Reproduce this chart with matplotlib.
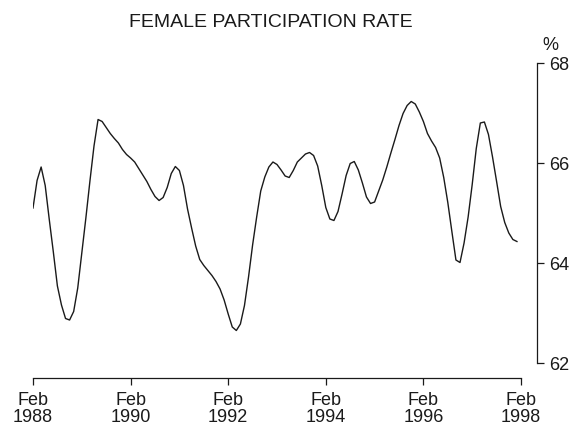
import matplotlib
matplotlib.use("Agg")
import matplotlib.pyplot as plt
import numpy as np

plt.rcParams['font.family'] = ['Liberation Sans', 'DejaVu Sans']

title = "FEMALE PARTICIPATION RATE"
unit_label = "%"

# Monthly female participation rate, Feb 1988 - Jan 1998
rate = [
    65.10, 65.65, 65.92, 65.55, 64.87, 64.22, 63.54, 63.16, 62.89, 62.86, 63.03, 63.50,
    64.20, 64.90, 65.64, 66.34, 66.87, 66.83, 66.71, 66.59, 66.49, 66.40, 66.27, 66.17,
    66.10, 66.02, 65.89, 65.76, 65.63, 65.47, 65.33, 65.25, 65.31, 65.51, 65.79, 65.93,
    65.85, 65.55, 65.08, 64.70, 64.34, 64.07, 63.95, 63.85, 63.75, 63.63, 63.48, 63.26,
    62.98, 62.72, 62.65, 62.78, 63.15, 63.72, 64.36, 64.92, 65.44, 65.72, 65.92, 66.02,
    65.97, 65.86, 65.74, 65.71, 65.85, 66.02, 66.10, 66.18, 66.21, 66.15, 65.94, 65.55,
    65.11, 64.88, 64.85, 65.03, 65.38, 65.75, 65.99, 66.03, 65.86, 65.60, 65.32, 65.19,
    65.22, 65.44, 65.66, 65.92, 66.20, 66.47, 66.75, 66.99, 67.15, 67.23, 67.18, 67.02,
    66.83, 66.59, 66.44, 66.31, 66.10, 65.71, 65.21, 64.63, 64.06, 64.01, 64.40, 64.92,
    65.57, 66.29, 66.80, 66.82, 66.57, 66.12, 65.63, 65.13, 64.81, 64.60, 64.47, 64.43,
]

xtick_months = [0, 24, 48, 72, 96, 120]
xtick_labels = ["Feb\n1988", "Feb\n1990", "Feb\n1992", "Feb\n1994", "Feb\n1996", "Feb\n1998"]
yticks = [62, 64, 66, 68]

W, H = 586, 427
fig = plt.figure(figsize=(W / 100, H / 100), dpi=100)
ax = fig.add_axes([33 / W, 1 - 364 / H, 488 / W, 300 / H])

months = np.arange(len(rate))
ax.plot(months, rate, color='#1a1a1a', lw=1.0)

ax.set_xlim(0, 120)
ax.set_ylim(62, 68)
ax.spines['left'].set_visible(False)
ax.spines['top'].set_visible(False)
ax.spines['right'].set_position(('outward', 11.5))
ax.spines['bottom'].set_position(('outward', 11))
for s in ['right', 'bottom']:
    ax.spines[s].set_linewidth(0.9)
    ax.spines[s].set_color('#1a1a1a')

ax.yaxis.tick_right()
ax.set_yticks(yticks)
ax.set_yticklabels([str(v) for v in yticks])
ax.set_xticks(xtick_months)
ax.set_xticklabels(xtick_labels)
ax.tick_params(axis='y', direction='out', length=5, width=0.9, pad=4, labelsize=13, colors='#1a1a1a')
ax.tick_params(axis='x', direction='out', length=5, width=0.9, pad=4, labelsize=13, colors='#1a1a1a')
for lab in ax.get_xticklabels():
    lab.set_linespacing(1.0)

fig.text(271 / W, 1 - 26.7 / H, title, ha='center', va='baseline',
         fontsize=14, color='#1a1a1a')
fig.text(542 / W, 1 - 45 / H, unit_label, ha='left', va='center', fontsize=13, color='#1a1a1a')

fig.savefig('out.png', dpi=100)
